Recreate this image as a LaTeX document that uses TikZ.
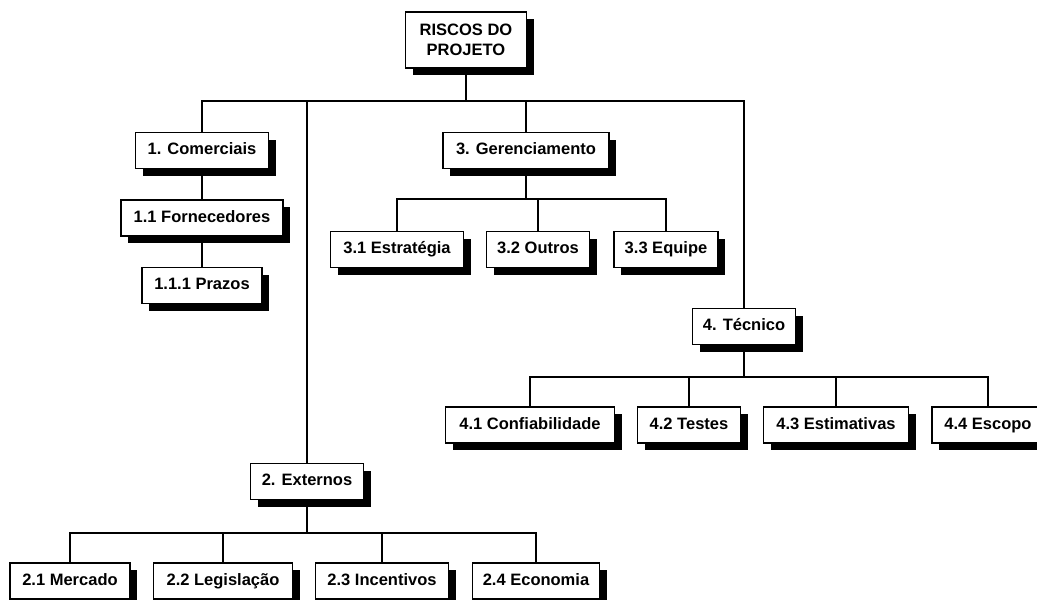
\documentclass[tikz,border=0pt]{standalone}
\usepackage{fontspec}
\setmainfont{Liberation Sans}
\usetikzlibrary{shadows}

\begin{document}
\begin{tikzpicture}[x=1pt, y=-1pt,
    box/.style={draw, line width=1.6pt, fill=white, inner sep=0pt,
        minimum height=36pt, align=center,
        font=\fontsize{16.5}{20}\selectfont\bfseries,
        drop shadow={shadow xshift=7pt, shadow yshift=-7pt, fill=black, opacity=1}},
    item/.style={box, text height=12pt, text depth=3.5pt},
    link/.style={line width=2pt}]
    \useasboundingbox (0,0) rectangle (1037,600);

    % Draw top box
    \node[box, minimum width=121pt, minimum height=56pt] (root) at (466,40) {RISCOS DO\\PROJETO};

    % Draw first level
    \node[item, minimum width=133pt] (com) at (202,150.5) {1. Comerciais};
    \node[item, minimum width=113pt] (ext) at (307,481.5) {2. Externos};
    \node[item, minimum width=166pt] (ger) at (526,150.5) {3. Gerenciamento};
    \node[item, minimum width=103pt] (tec) at (744,326.5) {4. Técnico};

    % Draw branch 1
    \node[item, minimum width=162pt] (forn) at (202,218) {1.1 Fornecedores};
    \node[item, minimum width=120pt] (praz) at (202,285.5) {1.1.1 Prazos};

    % Draw branch 2
    \node[item, minimum width=120pt] (merc) at (70,581) {2.1 Mercado};
    \node[item, minimum width=139pt] (leg) at (223,581) {2.2 Legislação};
    \node[item, minimum width=133pt] (inc) at (382,581) {2.3 Incentivos};
    \node[item, minimum width=127pt] (eco) at (536,581) {2.4 Economia};

    % Draw branch 3
    \node[item, minimum width=133pt] (estr) at (397,249.5) {3.1 Estratégia};
    \node[item, minimum width=103pt] (outr) at (538,249.5) {3.2 Outros};
    \node[item, minimum width=104pt] (equi) at (666,249.5) {3.3 Equipe};

    % Draw branch 4
    \node[item, minimum width=169pt] (conf) at (530,425) {4.1 Confiabilidade};
    \node[item, minimum width=103pt] (test) at (689,425) {4.2 Testes};
    \node[item, minimum width=145pt] (esti) at (836,425) {4.3 Estimativas};
    \node[item, minimum width=112pt] (esco) at (988,425) {4.4 Escopo};

    % Connect the levels
    \foreach \c in {com,ext,ger,tec}
        \draw[link] (root.south) -- ++(0,32) -| (\c.north);
    \draw[link] (com.south) -- (forn.north);
    \draw[link] (forn.south) -- (praz.north);
    \foreach \c in {merc,leg,inc,eco}
        \draw[link] (ext.south) -- ++(0,33) -| (\c.north);
    \foreach \c in {estr,outr,equi}
        \draw[link] (ger.south) -- ++(0,30) -| (\c.north);
    \foreach \c in {conf,test,esti,esco}
        \draw[link] (tec.south) -- ++(0,32) -| (\c.north);
\end{tikzpicture}
\end{document}
